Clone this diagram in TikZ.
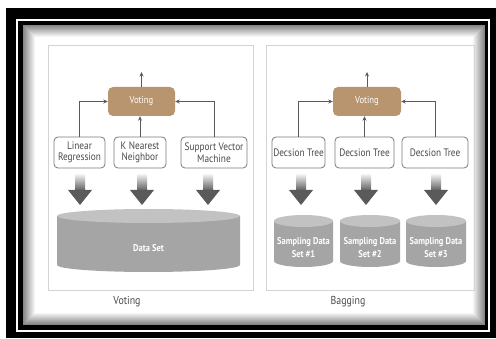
\documentclass[tikz,border=0pt]{standalone}
\usepackage{fontspec}
\setmainfont{PT Sans}[FakeStretch=0.86]
\usetikzlibrary{arrows.meta}

\definecolor{votebrown}{HTML}{B8956E}
\definecolor{boxline}{HTML}{7A7A7A}
\definecolor{txtgray}{HTML}{4A4A4A}
\definecolor{panelline}{HTML}{D4D4D4}
\definecolor{dbbody}{HTML}{A5A5A5}
\definecolor{dbtop}{HTML}{C2C2C2}
\definecolor{arrowgray}{HTML}{5A5A5A}

\tikzset{
  model/.style={draw=boxline, line width=0.8pt, rounded corners=4pt, fill=white,
    text=txtgray, font=\fontsize{10.8}{11.5}\selectfont, align=center,
    minimum height=31pt, inner sep=1pt},
  vote/.style={fill=votebrown, rounded corners=5pt, text=white,
    font=\fontsize{10}{11}\selectfont, minimum height=29pt},
  link/.style={draw=arrowgray, line width=0.8pt, -{Stealth[length=4.5pt,width=4pt]}},
  dbtext/.style={text=white, font=\bfseries\fontsize{9.8}{12.5}\selectfont, align=center},
  caption/.style={text=txtgray, font=\fontsize{11.5}{13}\selectfont},
  panel/.style={draw=panelline, line width=0.9pt},
  shaft/.style={top color=black!8, bottom color=arrowgray},
  head/.style={fill=arrowgray},
}

\begin{document}
\begin{tikzpicture}[x=1pt, y=1pt]
    \useasboundingbox (0,0) rectangle (496,-339);
    % frame
    \fill[black] (6,-8) rectangle (496,-338);
    \fill[white] (16,-19) rectangle (490,-332);
    \fill[black] (18,-21) rectangle (488,-330);
    \fill[white] (23,-25) rectangle (485,-325);
    \foreach \i in {0,...,11} {
      \pgfmathtruncatemacro\shd{48-4*\i}
      \draw[black!\shd, line width=1pt] (23.5+\i,-25.5-\i) rectangle (484.5-\i,-324.5+\i);
    }
    \draw[panel] (48,-45) rectangle (253,-290);
    \draw[panel] (266,-45) rectangle (474,-290);

    % voting
    \node[vote, minimum width=67pt] (vote1) at (141.5,-101.5) {Voting};
    \node[model, minimum width=51pt] (lr) at (79.5,-152.5) {Linear\\Regression};
    \node[model, minimum width=52pt] (knn) at (140,-152.5) {K Nearest\\Neighbor};
    \node[model, minimum width=66pt] (svm) at (214,-152.5) {Support Vector\\Machine};
    \coordinate (out1) at (141.5,-72);
    \draw[link] (vote1) -- (out1);
    \draw[link] (lr.north) |- (vote1.west);
    \draw[link] (knn.north) -- (knn.north |- vote1.south);
    \draw[link] (svm.north) |- (vote1.east);

    % bagging
    \node[vote, minimum width=68pt] (vote2) at (367,-101.5) {Voting};
    \node[model, minimum width=53pt] (dt1) at (298.5,-152.5) {Decsion Tree};
    \node[model, minimum width=59pt] (dt2) at (364.5,-152.5) {Decsion Tree};
    \node[model, minimum width=66pt] (dt3) at (435,-152.5) {Decsion Tree};
    \coordinate (out2) at (367,-72);
    \draw[link] (vote2) -- (out2);
    \draw[link] (dt1.north) |- (vote2.west);
    \draw[link] (dt2.north) -- (dt2.north |- vote2.south);
    \draw[link] (dt3.north) |- (vote2.east);

    % block arrows
    \foreach \ax in {80,142,208,301,366,436} {
      \fill[shaft] (\ax-5,-175) rectangle (\ax+5,-191);
      \fill[head] (\ax-12,-190) -- (\ax+12,-190) -- (\ax,-205) -- cycle;
    }

    % data sets
    \fill[dbbody] (57,-216) -- (57,-265) arc[start angle=180, end angle=360, x radius=91.5, y radius=7] -- (240,-216) -- cycle;
    \fill[dbtop] (148.5,-216) ellipse [x radius=91.5, y radius=7];
    \node[dbtext] (data) at (148.5,-248) {Data Set};

    \fill[dbbody] (274,-221) -- (274,-261) arc[start angle=180, end angle=360, x radius=29.5, y radius=6] -- (333,-221) -- cycle;
    \fill[dbtop] (303.5,-221) ellipse [x radius=29.5, y radius=6];
    \node[dbtext] (samp1) at (303.5,-247.5) {Sampling Data\\Set \#1};

    \fill[dbbody] (340,-221) -- (340,-261) arc[start angle=180, end angle=360, x radius=30, y radius=6] -- (400,-221) -- cycle;
    \fill[dbtop] (370,-221) ellipse [x radius=30, y radius=6];
    \node[dbtext] (samp2) at (370,-247.5) {Sampling Data\\Set \#2};

    \fill[dbbody] (406,-221) -- (406,-261) arc[start angle=180, end angle=360, x radius=30, y radius=6] -- (466,-221) -- cycle;
    \fill[dbtop] (436,-221) ellipse [x radius=30, y radius=6];
    \node[dbtext] (samp3) at (436,-247.5) {Sampling Data\\Set \#3};

    \node[caption] (cap1) at (127,-302) {Voting};
    \node[caption] (cap2) at (348,-302) {Bagging};
  \end{tikzpicture}
\end{document}
